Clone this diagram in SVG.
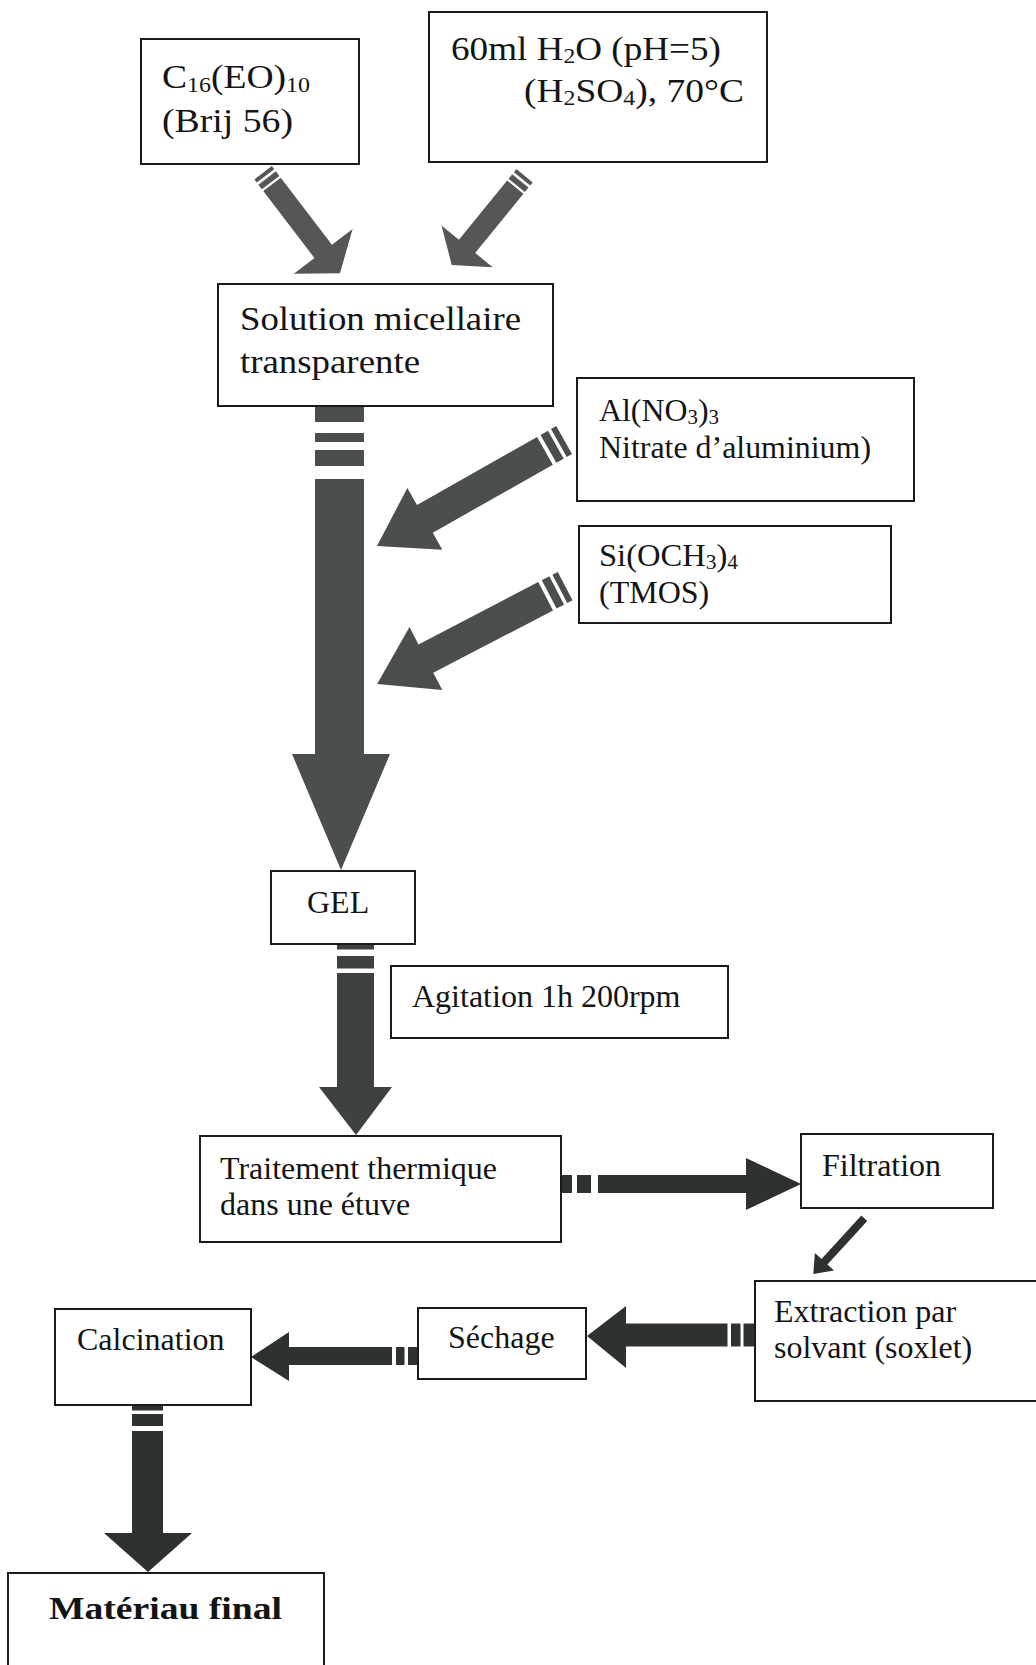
<svg xmlns="http://www.w3.org/2000/svg" width="1036" height="1665" viewBox="0 0 1036 1665">
<style>
.box{fill:#fff;stroke:#1a1a1a;stroke-width:2}
.t{font-family:"Liberation Serif","Times New Roman",serif;font-size:32px;fill:#141414}
.top{font-size:33px}
.b{font-weight:bold}
.c1{fill:#555755}
.c2{fill:#4b4f4b}
.c3{fill:#3e423e}
.c4{fill:#2d322e}
</style>
<rect width="1036" height="1665" fill="#fff"/>

<g id="connectors">
  <!-- top arrows -->
  <g class="c1" transform="translate(264.3,174.3) rotate(52.6)">
    <rect x="-2" y="-11" width="4" height="22"/>
    <rect x="4.7" y="-11" width="5.7" height="22"/>
    <polygon points="12.7,-11 97,-11 97,-37 124.6,0 97,37 97,11 12.7,11"/>
  </g>
  <g class="c1" transform="translate(523.3,177.3) rotate(129.2)">
    <rect x="-2" y="-10.5" width="4" height="21"/>
    <rect x="4.7" y="-10.5" width="5.7" height="21"/>
    <polygon points="12.7,-10.5 89,-10.5 89,-33 113.2,0 89,33 89,10.5 12.7,10.5"/>
  </g>
  <!-- main vertical arrow -->
  <g class="c2">
    <rect x="315" y="407" width="49" height="15"/>
    <rect x="315" y="433" width="49" height="9"/>
    <rect x="315" y="450" width="49" height="16"/>
    <polygon points="315,479 364,479 364,754 390,754 341,870 292,754 315,754"/>
  </g>
  <!-- Al arrow -->
  <g class="c2" transform="translate(561.5,441.5) rotate(150.5)">
    <rect x="-3" y="-16" width="6" height="32"/>
    <rect x="6.5" y="-16" width="8.5" height="32"/>
    <polygon points="19,-16 157,-16 157,-35.5 212,0 157,35.5 157,16 19,16"/>
  </g>
  <!-- Si arrow -->
  <g class="c2" transform="translate(562.5,587.5) rotate(152.5)">
    <rect x="-3" y="-16" width="6" height="32"/>
    <rect x="6.5" y="-16" width="8.5" height="32"/>
    <polygon points="19,-16 154,-16 154,-35.5 209,0 154,35.5 154,16 19,16"/>
  </g>
  <!-- GEL -> Traitement -->
  <g class="c3">
    <rect x="337" y="945" width="37" height="4.5"/>
    <rect x="337" y="956" width="37" height="12.5"/>
    <polygon points="337,973 374,973 374,1087 392,1087 356,1135 319,1087 337,1087"/>
  </g>
  <!-- Traitement -> Filtration -->
  <g class="c4">
    <rect x="562" y="1175" width="10" height="18"/>
    <rect x="577" y="1175" width="14" height="18"/>
    <polygon points="598,1175 746,1175 746,1158 801,1184 746,1210 746,1193 598,1193"/>
  </g>
  <!-- Filtration -> Extraction -->
  <g class="c4" transform="translate(864.3,1218.3) rotate(132.5)">
    <polygon points="0,-4 59,-4 59,-13 75.5,0 59,13 59,4 0,4"/>
  </g>
  <!-- Extraction -> Sechage -->
  <g class="c4">
    <rect x="743.5" y="1323.5" width="11" height="23"/>
    <rect x="731" y="1323.5" width="9.5" height="23"/>
    <polygon points="727.5,1323.5 626,1323.5 626,1306 587,1336 626,1368 626,1346.5 727.5,1346.5"/>
  </g>
  <!-- Sechage -> Calcination -->
  <g class="c4">
    <rect x="408" y="1347" width="9.5" height="18"/>
    <rect x="396" y="1347" width="8.5" height="18"/>
    <polygon points="392,1347 289,1347 289,1332 251,1357 289,1381 289,1365 392,1365"/>
  </g>
  <!-- Calcination -> Materiau final -->
  <g class="c4">
    <rect x="132" y="1406" width="31" height="4.5"/>
    <rect x="132" y="1414" width="31" height="12"/>
    <polygon points="132,1431 163,1431 163,1533 192,1533 148,1572 104,1533 132,1533"/>
  </g>
</g>

<g id="n-c16">
  <rect class="box" x="141" y="39" width="218" height="125"/>
  <text class="t top" x="162" y="88" textLength="148" lengthAdjust="spacingAndGlyphs">C<tspan font-size="21" dy="4">16</tspan><tspan dy="-4">(EO)</tspan><tspan font-size="21" dy="4">10</tspan></text>
  <text class="t top" x="162" y="132" textLength="131" lengthAdjust="spacingAndGlyphs">(Brij 56)</text>
</g>

<g id="n-h2o">
  <rect class="box" x="429" y="12" width="338" height="150"/>
  <text class="t top" x="451" y="60" textLength="270" lengthAdjust="spacingAndGlyphs">60ml H<tspan font-size="21" dy="3">2</tspan><tspan dy="-3">O (pH=5)</tspan></text>
  <text class="t top" x="524" y="102" textLength="220" lengthAdjust="spacingAndGlyphs">(H<tspan font-size="21" dy="3">2</tspan><tspan dy="-3">SO</tspan><tspan font-size="21" dy="3">4</tspan><tspan dy="-3">), 70°C</tspan></text>
</g>

<g id="n-solution">
  <rect class="box" x="218" y="284" width="335" height="122"/>
  <text class="t top" x="240" y="330" textLength="281" lengthAdjust="spacingAndGlyphs">Solution micellaire</text>
  <text class="t top" x="240" y="373" textLength="180" lengthAdjust="spacingAndGlyphs">transparente</text>
</g>

<g id="n-al">
  <rect class="box" x="577" y="378" width="337" height="123"/>
  <text class="t" x="599" y="421" textLength="120" lengthAdjust="spacingAndGlyphs">Al(NO<tspan font-size="21" dy="3">3</tspan><tspan dy="-3">)</tspan><tspan font-size="21" dy="3">3</tspan></text>
  <text class="t" x="599" y="458" textLength="272" lengthAdjust="spacingAndGlyphs">Nitrate d’aluminium)</text>
</g>

<g id="n-si">
  <rect class="box" x="579" y="526" width="312" height="97"/>
  <text class="t" x="599" y="566" textLength="139" lengthAdjust="spacingAndGlyphs">Si(OCH<tspan font-size="21" dy="3">3</tspan><tspan dy="-3">)</tspan><tspan font-size="21" dy="3">4</tspan></text>
  <text class="t" x="599" y="603">(TMOS)</text>
</g>

<g id="n-gel">
  <rect class="box" x="271" y="871" width="144" height="73"/>
  <text class="t" x="307" y="913">GEL</text>
</g>

<g id="n-agitation">
  <rect class="box" x="391" y="966" width="337" height="72"/>
  <text class="t" x="412" y="1007">Agitation 1h 200rpm</text>
</g>

<g id="n-traitement">
  <rect class="box" x="200" y="1136" width="361" height="106"/>
  <text class="t" x="220" y="1179">Traitement thermique</text>
  <text class="t" x="220" y="1215">dans une étuve</text>
</g>

<g id="n-filtration">
  <rect class="box" x="801" y="1134" width="192" height="74"/>
  <text class="t" x="822" y="1176">Filtration</text>
</g>

<g id="n-extraction">
  <rect class="box" x="755" y="1281" width="300" height="120"/>
  <text class="t" x="774" y="1322">Extraction par</text>
  <text class="t" x="774" y="1358">solvant (soxlet)</text>
</g>

<g id="n-sechage">
  <rect class="box" x="418" y="1308" width="168" height="71"/>
  <text class="t" x="448" y="1348">Séchage</text>
</g>

<g id="n-calcination">
  <rect class="box" x="55" y="1309" width="196" height="96"/>
  <text class="t" x="77" y="1350">Calcination</text>
</g>

<g id="n-final">
  <rect class="box" x="8" y="1573" width="316" height="120"/>
  <text class="t b" x="49" y="1619" textLength="233" lengthAdjust="spacingAndGlyphs">Matériau final</text>
</g>
</svg>
